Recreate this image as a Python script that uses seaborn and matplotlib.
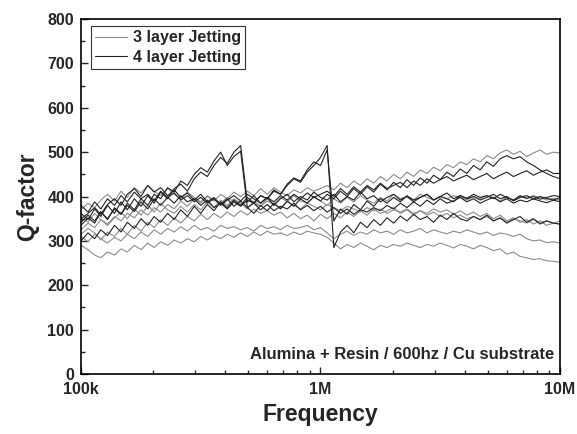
import matplotlib

matplotlib.use("Agg")
import matplotlib.pyplot as plt
import matplotlib.ticker as mticker
import numpy as np
import pandas as pd
import seaborn as sns

# sweep frequencies in kHz (36 points per decade)
freq_khz = [100, 107, 114, 121, 129, 138, 147, 156, 167, 178, 190, 202,
            215, 230, 245, 261, 278, 297, 316, 337, 359, 383, 408, 435,
            464, 495, 527, 562, 599, 639, 681, 726, 774, 825, 880, 938,
            1000, 1066, 1137, 1212, 1292, 1377, 1468, 1565, 1668, 1778, 1896, 2021,
            2154, 2297, 2448, 2610, 2783, 2966, 3162, 3371, 3594, 3831, 4084, 4354,
            4642, 4948, 5275, 5623, 5995, 6391, 6813, 7263, 7743, 8254, 8799, 9380, 10000]

# 4 layer Jetting samples (dark traces)
q4_a = [362, 348, 372, 355, 380, 362, 388, 370, 395, 378, 402, 385,
        410, 395, 418, 428, 412, 440, 455, 445, 470, 488, 475, 500,
        515, 388, 402, 385, 398, 380, 395, 405, 388, 400, 392, 410,
        398, 392, 405, 388, 400, 392, 410, 395, 402, 388, 398, 405,
        392, 400, 388, 398, 405, 392, 400, 395, 388, 402, 395, 400,
        392, 398, 405, 395, 400, 390, 398, 402, 394, 400, 396, 392, 398]
q4_b = [335, 352, 340, 366, 348, 375, 360, 385, 370, 395, 380, 405,
        395, 420, 410, 435, 425, 450, 465, 455, 480, 500, 470, 490,
        502, 375, 362, 380, 368, 385, 372, 390, 378, 395, 385, 400,
        390, 405, 395, 412, 400, 418, 405, 422, 410, 428, 415, 432,
        420, 438, 425, 442, 430, 448, 438, 455, 445, 462, 452, 470,
        460, 478, 468, 485, 492, 485, 490, 478, 470, 460, 452, 445, 440]
q4_c = [300, 318, 305, 325, 312, 335, 320, 342, 328, 350, 335, 355,
        342, 362, 348, 370, 355, 378, 362, 382, 368, 388, 375, 392,
        380, 398, 385, 402, 395, 412, 405, 425, 440, 432, 455, 470,
        488, 515, 285, 320, 335, 318, 342, 330, 348, 335, 352, 340,
        356, 345, 360, 348, 355, 342, 358, 348, 362, 350, 345, 355,
        348, 358, 345, 352, 340, 348, 355, 342, 350, 338, 345, 340, 338]
q4_d = [342, 358, 345, 365, 350, 372, 360, 380, 366, 388, 372, 395,
        380, 398, 385, 402, 388, 395, 380, 392, 375, 385, 372, 388,
        378, 392, 385, 402, 395, 415, 405, 428, 442, 435, 460, 478,
        470, 505, 345, 372, 360, 382, 370, 390, 378, 395, 385, 398,
        388, 402, 392, 398, 405, 392, 400, 408, 395, 402, 396, 405,
        398, 402, 395, 405, 398, 392, 402, 396, 400, 394, 398, 402, 400]
q4_e = [380, 365, 388, 372, 395, 380, 402, 388, 410, 395, 405, 390,
        412, 398, 408, 392, 402, 388, 398, 385, 395, 380, 392, 402,
        390, 405, 395, 385, 398, 388, 402, 392, 405, 395, 408, 398,
        405, 412, 400, 418, 405, 422, 410, 425, 415, 430, 418, 425,
        432, 420, 435, 425, 440, 430, 438, 445, 435, 442, 448, 438,
        445, 452, 440, 448, 455, 445, 452, 458, 448, 455, 460, 452, 452]
q4_f = [350, 362, 375, 360, 382, 395, 380, 405, 418, 400, 425, 410,
        420, 402, 415, 398, 408, 392, 405, 388, 398, 382, 395, 378,
        390, 375, 385, 370, 382, 368, 378, 372, 385, 370, 380, 368,
        378, 365, 375, 362, 372, 360, 370, 365, 375, 368, 380, 372,
        385, 375, 388, 378, 392, 382, 395, 385, 390, 398, 388, 395,
        385, 392, 398, 388, 395, 385, 392, 388, 395, 390, 386, 392, 388]

# 3 layer Jetting samples (light traces)
q3_a = [325, 340, 330, 348, 338, 355, 345, 362, 352, 370, 358, 375,
        365, 382, 372, 390, 378, 395, 385, 400, 390, 405, 395, 410,
        400, 412, 402, 418, 405, 420, 410, 402, 415, 408, 420, 412,
        418, 425, 415, 430, 420, 435, 425, 440, 430, 445, 435, 450,
        440, 455, 445, 460, 452, 466, 458, 472, 465, 478, 472, 485,
        478, 492, 485, 498, 505, 495, 502, 490, 498, 505, 495, 500, 498]
q3_b = [355, 342, 362, 348, 335, 352, 365, 350, 372, 358, 380, 365,
        385, 370, 362, 378, 365, 382, 370, 388, 375, 392, 380, 395,
        385, 372, 390, 378, 395, 382, 398, 388, 402, 390, 385, 398,
        390, 380, 395, 385, 398, 388, 402, 392, 385, 398, 390, 405,
        395, 400, 392, 405, 398, 392, 400, 395, 402, 398, 392, 400,
        395, 402, 398, 390, 398, 392, 400, 395, 402, 398, 392, 396, 392]
q3_c = [315, 328, 318, 302, 320, 310, 328, 315, 335, 322, 342, 330,
        348, 335, 352, 340, 355, 345, 360, 348, 362, 352, 365, 355,
        368, 358, 372, 362, 368, 358, 365, 352, 362, 350, 358, 345,
        360, 350, 362, 352, 365, 355, 368, 358, 372, 362, 368, 375,
        362, 370, 358, 368, 362, 372, 365, 370, 360, 368, 358, 365,
        355, 362, 350, 358, 345, 352, 342, 348, 338, 345, 335, 340, 338]
q3_d = [370, 385, 375, 392, 405, 390, 412, 398, 420, 408, 425, 412,
        402, 418, 405, 395, 410, 398, 388, 402, 392, 385, 398, 388,
        380, 392, 385, 378, 390, 382, 375, 388, 380, 372, 385, 378,
        370, 382, 375, 368, 378, 372, 365, 375, 368, 372, 362, 370,
        365, 372, 362, 368, 358, 365, 355, 362, 352, 358, 350, 355,
        348, 355, 345, 352, 342, 350, 345, 340, 348, 342, 345, 340, 345]
q3_e = [290, 280, 268, 262, 275, 268, 282, 275, 290, 280, 295, 285,
        298, 290, 302, 295, 305, 298, 310, 302, 312, 305, 315, 308,
        318, 310, 320, 312, 322, 315, 318, 312, 320, 314, 322, 318,
        315, 308, 295, 282, 292, 285, 295, 288, 280, 290, 285, 292,
        288, 295, 290, 285, 292, 288, 295, 290, 284, 292, 288, 282,
        290, 285, 278, 282, 270, 275, 265, 262, 258, 260, 255, 254, 252]
q3_f = [310, 298, 315, 305, 295, 308, 300, 315, 305, 320, 310, 325,
        315, 328, 320, 332, 322, 335, 325, 330, 322, 335, 328, 332,
        325, 330, 322, 335, 328, 332, 325, 335, 328, 330, 335, 325,
        330, 318, 305, 315, 322, 312, 320, 315, 325, 318, 322, 315,
        325, 318, 322, 328, 318, 325, 320, 316, 322, 318, 325, 320,
        315, 320, 312, 318, 315, 310, 315, 305, 300, 302, 296, 298, 295]

layer_labels = ["3 layer Jetting", "4 layer Jetting"]
runs = {
    "4a": (layer_labels[1], q4_a), "4b": (layer_labels[1], q4_b), "4c": (layer_labels[1], q4_c),
    "4d": (layer_labels[1], q4_d), "4e": (layer_labels[1], q4_e), "4f": (layer_labels[1], q4_f),
    "3a": (layer_labels[0], q3_a), "3b": (layer_labels[0], q3_b), "3c": (layer_labels[0], q3_c),
    "3d": (layer_labels[0], q3_d), "3e": (layer_labels[0], q3_e), "3f": (layer_labels[0], q3_f),
}

frames = []
for run_id, (layer, q) in runs.items():
    assert len(q) == len(freq_khz), (run_id, len(q))
    frames.append(pd.DataFrame({"Frequency": np.array(freq_khz) * 1e3, "Q": q,
                                "run": run_id, "layer": layer}))
df = pd.concat(frames, ignore_index=True)

sns.set_theme(style="ticks")
plt.rcParams["font.family"] = ["Liberation Sans", "DejaVu Sans"]
plt.rcParams["font.weight"] = "bold"
plt.rcParams["axes.labelweight"] = "bold"

fig = plt.figure(figsize=(5.77, 4.34), dpi=100)
ax = fig.add_axes([0.1404, 0.1382, 0.8301, 0.818])

sns.lineplot(data=df, x="Frequency", y="Q", hue="layer", units="run", estimator=None,
             hue_order=layer_labels, palette={layer_labels[0]: "#8c8c8c", layer_labels[1]: "#222222"},
             linewidth=0.8, sort=False, ax=ax)

ax.set_xscale("log")
ax.set_xlim(1e5, 1e7)
ax.set_ylim(0, 800)
ax.xaxis.set_major_locator(mticker.FixedLocator([1e5, 1e6, 1e7]))
ax.xaxis.set_major_formatter(mticker.FixedFormatter(["100k", "1M", "10M"]))
ax.xaxis.set_minor_locator(mticker.LogLocator(base=10, subs=np.arange(2, 10)))
ax.xaxis.set_minor_formatter(mticker.NullFormatter())
ax.yaxis.set_major_locator(mticker.MultipleLocator(100))
ax.yaxis.set_minor_locator(mticker.MultipleLocator(50))
ax.tick_params(which="both", direction="in", labelsize=11.5, width=1)
ax.tick_params(which="major", length=5)
ax.tick_params(which="minor", length=3)
ax.tick_params(axis="x", pad=6)
ax.tick_params(axis="y", pad=5)
for lab in ax.get_xticklabels() + ax.get_yticklabels():
    lab.set_fontweight("bold")
for sp in ax.spines.values():
    sp.set_linewidth(1.2)
    sp.set_color("black")

ax.set_xlabel("Frequency", fontsize=16.5, fontweight="bold", labelpad=4)
ax.set_ylabel("Q-factor", fontsize=16.5, fontweight="bold", labelpad=6)

ax.text(0.987, 0.056, "Alumina + Resin / 600hz / Cu substrate", transform=ax.transAxes,
        ha="right", va="center", fontsize=12, fontweight="bold")

sns.move_legend(ax, "upper left", bbox_to_anchor=(0.02, 0.98), title=None, frameon=True,
                fancybox=False, fontsize=11.5, handlelength=2.0, borderpad=0.25, labelspacing=0.3,
                handletextpad=0.4, borderaxespad=0)
leg = ax.get_legend()
leg.get_frame().set_edgecolor("black")
leg.get_frame().set_linewidth(0.8)
for t in leg.get_texts():
    t.set_fontweight("bold")

fig.savefig("out.png", dpi=100)
